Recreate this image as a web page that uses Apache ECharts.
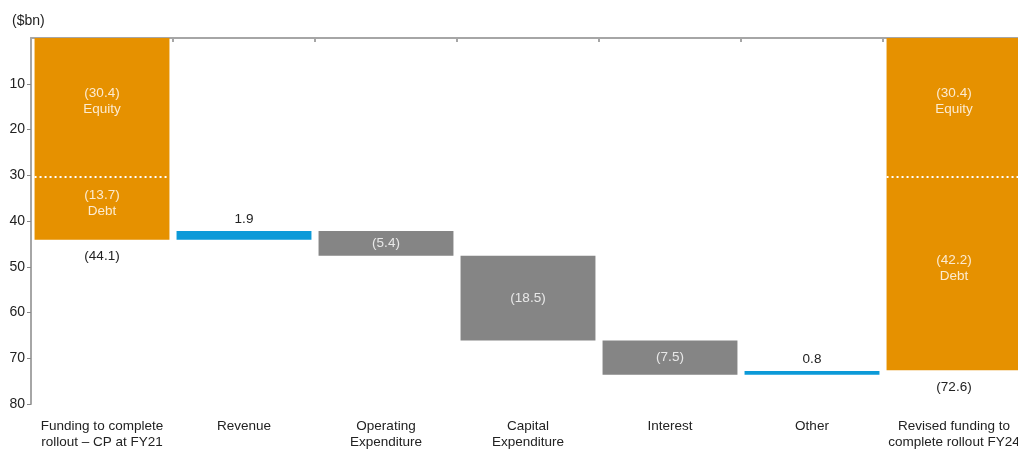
<!DOCTYPE html>
<html>
<head>
<meta charset="utf-8">
<script src="https://cdn.jsdelivr.net/npm/echarts@6/dist/echarts.min.js"></script>
<style>html,body{margin:0;padding:0;background:#fff}#c{width:1018px;height:450px}</style>
</head>
<body>
<div id="c"></div>
<script>
const categories = ['Funding to complete\nrollout – CP at FY21', 'Revenue', 'Operating\nExpenditure', 'Capital\nExpenditure', 'Interest', 'Other', 'Revised funding to\ncomplete rollout FY24'];
const yTicks = [10, 20, 30, 40, 50, 60, 70, 80];
// starting and revised funding split
const startEquity = 30.4, startDebt = 13.7, startTotal = 44.1;
const endEquity = 30.4, endDebt = 42.2, endTotal = 72.6;
// movements: positive = reduces funding need (blue), negative = increases (grey)
const stepValues = [null, 1.9, -5.4, -18.5, -7.5, 0.8, null];

const n = categories.length;
const base = new Array(n).fill('-');
const equity = new Array(n).fill('-');
const debt = new Array(n).fill('-');
const blue = new Array(n).fill('-');
const grey = new Array(n).fill('-');
const totals = new Array(n).fill('-');
equity[0] = startEquity; debt[0] = startDebt; totals[0] = startTotal; base[0] = 0;
equity[n-1] = endEquity; debt[n-1] = endDebt; totals[n-1] = endTotal; base[n-1] = 0;
let cum = startTotal;
for (let i = 1; i < n - 1; i++) {
  const v = stepValues[i];
  if (v > 0) { cum -= v; base[i] = +cum.toFixed(2); blue[i] = v; }
  else { base[i] = +cum.toFixed(2); grey[i] = -v; cum += -v; }
}
const dividers = [[0, startEquity], [n - 1, endEquity]];

const FONT = 'Liberation Sans';
const chart = echarts.init(document.getElementById('c'));
const fmtNeg = v => '(' + v.toFixed(1) + ')';
chart.setOption({
  animation: false,
  title: { text: '($bn)', left: 7, top: 9, textStyle: { fontFamily: FONT, fontSize: 14, fontWeight: 'normal', color: '#222' } },
  grid: { left: 31, top: 38, width: 994, height: 366, outerBoundsMode: 'none', containLabel: false },
  xAxis: [
    { type: 'category', data: categories, position: 'bottom',
      axisLine: { show: false }, axisTick: { show: false },
      axisLabel: { interval: 0, margin: 14, fontFamily: FONT, fontSize: 13.5, color: '#222', lineHeight: 16 } },
    { type: 'category', data: categories, position: 'top',
      axisLine: { show: true, lineStyle: { color: '#a6a6a6', width: 2 } },
      axisTick: { show: true, interval: 0, inside: true, length: 4, lineStyle: { color: '#a6a6a6', width: 2 } },
      axisLabel: { show: false } }
  ],
  yAxis: { type: 'value', inverse: true, min: 0, max: 80, interval: 10,
    axisLine: { show: true, lineStyle: { color: '#a6a6a6', width: 2 } },
    axisTick: { show: true, length: 4, lineStyle: { color: '#888' } },
    splitLine: { show: false },
    axisLabel: { showMinLabel: false, margin: 6, fontFamily: FONT, fontSize: 14, color: '#222',
      formatter: v => yTicks.includes(v) ? String(v) : '' } },
  series: [
    { name: 'base', type: 'bar', stack: 'w', data: base, barCategoryGap: '5%',
      itemStyle: { color: 'transparent' }, silent: true },
    { name: 'equity', type: 'bar', stack: 'w', data: equity,
      itemStyle: { color: '#E69100' },
      label: { show: true, position: 'inside', offset: [0, -6], fontFamily: FONT, fontSize: 13.5, color: '#FCEBD0', lineHeight: 16,
        formatter: p => fmtNeg(p.value) + '\nEquity' } },
    { name: 'debt', type: 'bar', stack: 'w', data: debt,
      itemStyle: { color: '#E69100' },
      label: { show: true, position: 'inside', offset: [0, -5], fontFamily: FONT, fontSize: 13.5, color: '#FCEBD0', lineHeight: 16,
        formatter: p => fmtNeg(p.value) + '\nDebt' } },
    { name: 'blue', type: 'bar', stack: 'w', data: blue,
      itemStyle: { color: '#0C9AD8' },
      label: { show: true, position: 'top', distance: 5, fontFamily: FONT, fontSize: 13.5, color: '#222',
        formatter: p => p.value.toFixed(1) } },
    { name: 'grey', type: 'bar', stack: 'w', data: grey,
      itemStyle: { color: '#858585' },
      label: { show: true, position: 'inside', fontFamily: FONT, fontSize: 13.5, color: '#E8E8E8',
        formatter: p => fmtNeg(p.value) } },
    { name: 'total', type: 'bar', data: totals, barGap: '-100%', silent: true,
      itemStyle: { color: 'transparent' },
      label: { show: true, position: 'bottom', distance: 10, fontFamily: FONT, fontSize: 13.5, color: '#222',
        formatter: p => fmtNeg(p.value) } },
    { name: 'divider', type: 'custom', data: dividers, z: 5, silent: true,
      renderItem: (params, api) => {
        const p = api.coord([api.value(0), api.value(1)]);
        const w = api.size([1, 0])[0] * 0.95;
        return { type: 'line', shape: { x1: p[0] - w / 2, y1: p[1], x2: p[0] + w / 2, y2: p[1] },
          style: { stroke: '#FFFFFF', lineWidth: 2, lineDash: [2, 3] } };
      } }
  ]
});
</script>
</body>
</html>
